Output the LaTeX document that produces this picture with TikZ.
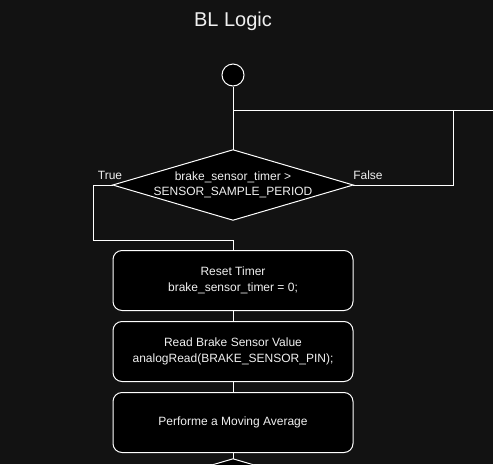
\documentclass[tikz,border=0pt]{standalone}
\usepackage{fontspec}
\setmainfont{Liberation Sans}
\usetikzlibrary{positioning}

\definecolor{bgdark}{RGB}{18,18,18}
\definecolor{fgtext}{RGB}{240,240,240}

\tikzset{
  wire/.style={draw=white, line width=1pt},
  block/.style={draw=white, fill=black, line width=1pt, rounded corners=9pt,
    minimum width=240pt, minimum height=60pt, align=center, text=fgtext,
    font=\fontsize{12}{15.5}\selectfont},
  cond/.style={minimum width=240pt, minimum height=70pt, inner sep=0pt},
  condtext/.style={align=center, text=fgtext, font=\fontsize{12}{15}\selectfont},
  lbl/.style={text=fgtext, font=\fontsize{12}{14}\selectfont, inner sep=0pt}
}

\begin{document}
\begin{tikzpicture}[x=1pt, y=-1pt]
  \fill[bgdark] (0,0) rectangle (493,464);
  \useasboundingbox (0,0) rectangle (493,464);
  \clip (0,0) rectangle (493,464);

  \node[text=fgtext, font=\fontsize{20}{24}\selectfont] (title) at (233,21) {BL Logic};
  \node[circle, draw=white, fill=black, line width=1pt, minimum size=22pt, inner sep=0pt] (start) at (233,75) {};

  \coordinate (jn) at (233,110);
  \coordinate (fback) at (453,110);
  \coordinate (loopin) at (493,110);
  \coordinate (tleft) at (93,240);

  % decision
  \node[cond] (dec) at (233,185) {};
  \draw[wire, fill=black] (dec.north) -- (dec.east) -- (dec.south) -- (dec.west) -- cycle;
  \node[condtext] (dectext) at (dec) {brake\_sensor\_timer >\\SENSOR\_SAMPLE\_PERIOD};
  \node[lbl] (ltrue) at (110,175) {True};
  \node[lbl] (lfalse) at (368,175) {False};

  % steps
  \node[block] (reset) at (233,280.5) {Reset Timer\\brake\_sensor\_timer = 0;};
  \node[block, below=10pt of reset] (read) {Read Brake Sensor Value\\analogRead(BRAKE\_SENSOR\_PIN);};
  \node[block, below=10pt of read] (avg) {Performe a Moving Average};

  % next decision, cut off by the frame
  \node[cond] (dec2) at (233,494) {};
  \draw[wire, fill=black] (dec2.north) -- (dec2.east) -- (dec2.south) -- (dec2.west) -- cycle;

  % connectors
  \draw[wire] (start) -- (dec.north);
  \draw[wire] (loopin) -- (jn);
  \draw[wire] (dec.east) -| (fback);
  \draw[wire] (dec.west) -| (tleft) -- (tleft -| reset.north) -- (reset.north);
  \draw[wire] (reset) -- (read);
  \draw[wire] (read) -- (avg);
  \draw[wire] (avg) -- (dec2.north);
\end{tikzpicture}
\end{document}
